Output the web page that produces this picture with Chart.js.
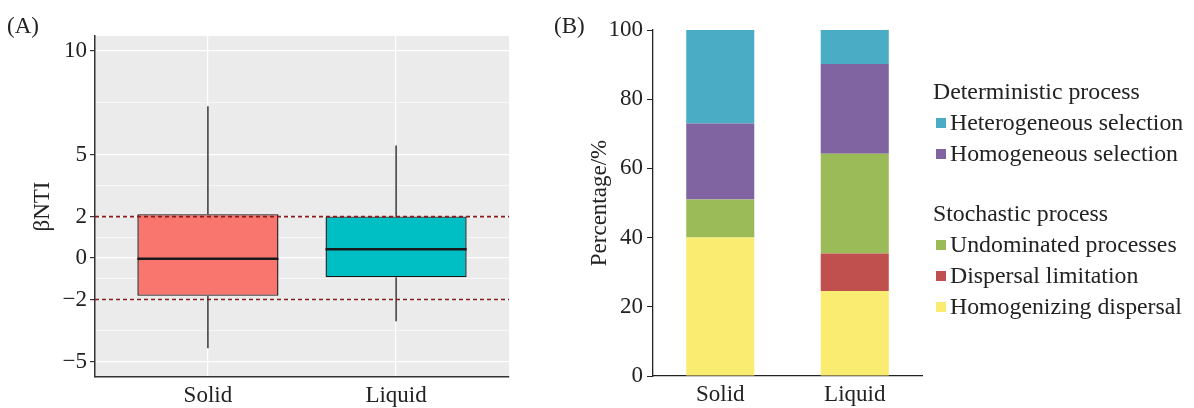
<!DOCTYPE html>
<html>
<head>
<meta charset="utf-8">
<script src="https://cdn.jsdelivr.net/npm/chart.js@4.4.1/dist/chart.umd.min.js"></script>
<style>
  body { margin: 0; background: #fff; }
  #wrap { position: relative; width: 1194px; height: 408px; overflow: hidden; font-family: "Liberation Serif", "Times New Roman", serif; color: #222; }
  #boxWrap { position: absolute; left: 0; top: 0; width: 530px; height: 408px; }
  #barWrap { position: absolute; left: 540px; top: 0; width: 654px; height: 408px; }
  .panel { position: absolute; font-size: 23px; line-height: 23px; }
  #legend { position: absolute; left: 933px; top: 76px; font-size: 23.8px; line-height: 31px; }
  #legend .group + .group { margin-top: 29px; }
  #legend .item { display: flex; align-items: center; }
  #legend .sw { width: 10px; height: 10px; margin: 0 4px 0 3px; }
</style>
</head>
<body>
<div id="wrap">
  <div id="boxWrap"><canvas id="boxChart"></canvas></div>
  <div id="barWrap"><canvas id="barChart"></canvas></div>
  <div class="panel" style="left:7px; top:14px;">(A)</div>
  <div class="panel" style="left:554px; top:14px;">(B)</div>
  <div id="legend"></div>
</div>
<script>
// Panel A: betaNTI box plot
const groups = ['Solid', 'Liquid'];
const whiskerLow = [-4.35, -3.05];
const q1 = [-1.82, -0.93];
const median = [-0.03, 0.43];
const q3 = [2.12, 2.01];
const whiskerHigh = [7.33, 5.43];
const boxColors = ['#F8766D', '#00BFC4'];
const yTicksA = [-5, -2, 0, 2, 5, 10];
const minorTicksA = [-3.5, -1, 1, 3.5, 7.5];
const thresholds = [2, -2];

// Panel B: process contributions (%)
const processes = ['Homogenizing dispersal', 'Dispersal limitation', 'Undominated processes', 'Homogeneous selection', 'Heterogeneous selection'];
const processColors = ['#FAEC70', '#C0504D', '#9BBB59', '#8064A2', '#4BACC6'];
const solidShare = [40, 0, 11, 22, 27];
const liquidShare = [24.6, 10.8, 28.8, 26, 9.8];
const legendGroups = [
    { title: 'Deterministic process', items: ['Heterogeneous selection', 'Homogeneous selection'] },
    { title: 'Stochastic process', items: ['Undominated processes', 'Dispersal limitation', 'Homogenizing dispersal'] }
];

const serif = '"Liberation Serif", "Times New Roman", serif';
const axisFont = { family: serif, size: 23 };
Chart.defaults.color = '#222';
Chart.defaults.font.family = serif;

const minus = v => String(v).replace('-', '\u2212');

const boxExtras = {
    id: 'boxExtras',
    beforeDraw(chart) {
        const { ctx, chartArea: a } = chart;
        ctx.save();
        ctx.fillStyle = '#EBEBEB';
        ctx.fillRect(a.left, a.top, a.right - a.left, a.bottom - a.top);
        ctx.restore();
    },
    afterDatasetsDraw(chart) {
        const { ctx, chartArea: a } = chart;
        const y = chart.scales.y;
        const meta = chart.getDatasetMeta(0);
        ctx.save();
        meta.data.forEach((bar, i) => {
            const { x, width } = bar.getProps(['x', 'width'], true);
            ctx.strokeStyle = '#1a1a1a';
            ctx.lineWidth = 1.3;
            ctx.beginPath();
            ctx.moveTo(x, y.getPixelForValue(q3[i]));
            ctx.lineTo(x, y.getPixelForValue(whiskerHigh[i]));
            ctx.moveTo(x, y.getPixelForValue(q1[i]));
            ctx.lineTo(x, y.getPixelForValue(whiskerLow[i]));
            ctx.stroke();
            ctx.lineWidth = 2.4;
            ctx.beginPath();
            const my = y.getPixelForValue(median[i]);
            ctx.moveTo(x - width / 2, my);
            ctx.lineTo(x + width / 2, my);
            ctx.stroke();
        });
        // threshold lines at |betaNTI| = 2
        ctx.strokeStyle = '#8B1A1A';
        ctx.lineWidth = 1.6;
        ctx.setLineDash([4, 3]);
        thresholds.forEach(t => {
            const ty = y.getPixelForValue(t);
            ctx.beginPath();
            ctx.moveTo(a.left, ty);
            ctx.lineTo(a.right, ty);
            ctx.stroke();
        });
        ctx.restore();
    }
};

new Chart(document.getElementById('boxChart'), {
    type: 'bar',
    data: {
        datasets: [{
            data: groups.map((g, i) => ({ x: i + 1, y: [q1[i], q3[i]] })),
            backgroundColor: boxColors,
            borderColor: '#1a1a1a',
            borderWidth: 1.4,
            borderSkipped: false,
            barPercentage: 0.75,
            categoryPercentage: 1
        }]
    },
    options: {
        responsive: true,
        maintainAspectRatio: false,
        animation: false,
        layout: { padding: { top: 36, right: 21, left: 0, bottom: 0 } },
        plugins: { legend: { display: false }, tooltip: { enabled: false } },
        scales: {
            x: {
                type: 'linear',
                offset: false,
                min: 0.4,
                max: 2.6,
                afterBuildTicks: s => { s.ticks = groups.map((g, i) => ({ value: i + 1 })); },
                afterFit: s => { s.height = 31; },
                ticks: { font: axisFont, color: '#222', padding: 5, callback: v => groups[v - 1] },
                grid: { color: '#FFFFFF', lineWidth: 1.2, drawTicks: false, offset: false },
                border: { color: '#333', width: 1.5 }
            },
            y: {
                min: -5.74,
                max: 10.72,
                afterBuildTicks: s => {
                    s.ticks = yTicksA.concat(minorTicksA).sort((p, q) => p - q).map(v => ({ value: v }));
                },
                afterFit: s => { s.width = 95; },
                title: { display: true, text: '\u03B2NTI', font: axisFont, color: '#222', padding: { top: 29, bottom: 0 } },
                ticks: {
                    font: axisFont, color: '#222', padding: 3,
                    callback: v => yTicksA.includes(v) ? minus(v) : ''
                },
                grid: {
                    color: '#FFFFFF',
                    lineWidth: c => yTicksA.includes(c.tick.value) ? 1.2 : 0.6,
                    tickColor: c => yTicksA.includes(c.tick.value) ? '#333' : 'rgba(0,0,0,0)',
                    tickLength: 5
                },
                border: { color: '#333', width: 1.5 }
            }
        }
    },
    plugins: [boxExtras]
});

new Chart(document.getElementById('barChart'), {
    type: 'bar',
    data: {
        labels: groups,
        datasets: processes.map((p, i) => ({
            label: p,
            data: [solidShare[i], liquidShare[i]],
            backgroundColor: processColors[i],
            borderWidth: 0,
            barPercentage: 0.506,
            categoryPercentage: 1
        }))
    },
    options: {
        responsive: true,
        maintainAspectRatio: false,
        animation: false,
        layout: { padding: { top: 30, right: 272, left: 0, bottom: 0 } },
        plugins: { legend: { display: false }, tooltip: { enabled: false } },
        scales: {
            x: {
                stacked: true,
                afterFit: s => { s.height = 32; },
                ticks: { font: axisFont, color: '#222', padding: 5 },
                grid: { display: false, drawTicks: false },
                border: { color: '#222', width: 1.3 }
            },
            y: {
                stacked: true,
                min: 0,
                max: 100,
                afterFit: s => { s.width = 113; },
                title: { display: true, text: 'Percentage/%', font: axisFont, color: '#222', padding: { top: 46, bottom: 0 } },
                ticks: { font: axisFont, color: '#222', stepSize: 20, padding: 4 },
                grid: { drawOnChartArea: false, tickColor: '#222', tickLength: 6 },
                border: { color: '#222', width: 1.3 }
            }
        }
    }
});

// grouped legend for panel B
const legend = document.getElementById('legend');
legendGroups.forEach(g => {
    const block = document.createElement('div');
    block.className = 'group';
    block.innerHTML = `<div>${g.title}</div>` + g.items.map(name => `
        <div class="item"><span class="sw" style="background:${processColors[processes.indexOf(name)]}"></span>${name}</div>
    `).join('');
    legend.appendChild(block);
});
</script>
</body>
</html>
